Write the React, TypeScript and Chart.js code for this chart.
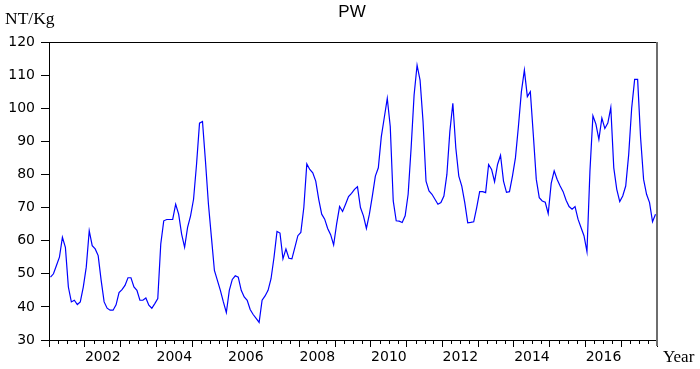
import React, { useEffect, useRef } from "react";
import { Chart, registerables } from "chart.js";

Chart.register(...registerables);

const startYear = 2001;
const endYear = 2018;
const seriesName = "PW";
const yUnit = "NT/Kg";
const xUnit = "Year";
const yTicks = [30, 40, 50, 60, 70, 80, 90, 100, 110, 120];
const yearLabels = [2002, 2004, 2006, 2008, 2010, 2012, 2014, 2016];

// monthly values, 2001M01 .. 2017M12
const pw2001 = [49, 50, 52.5, 55, 61, 58, 46, 41.5, 42, 40.7, 41.5, 46];
const pw2002 = [52, 63, 58.5, 57.5, 55.5, 48, 41.5, 39.6, 39, 39, 40.6, 44.3];
const pw2003 = [45.2, 46.5, 48.8, 48.8, 46, 45, 42, 42, 42.7, 40.5, 39.6, 41];
const pw2004 = [42.5, 59, 66, 66.4, 66.4, 66.4, 71, 68, 62, 58, 64, 67.5];
const pw2005 = [72.5, 83, 95.5, 96, 84, 71, 61, 51, 48, 45, 41.5, 38.3];
const pw2006 = [45, 48.3, 49.4, 49, 45, 43, 42, 39.2, 37.7, 36.5, 35.3, 42];
const pw2007 = [43.3, 45, 48.5, 55, 62.8, 62.3, 54.5, 57.5, 54.7, 54.5, 58, 61.5];
const pw2008 = [62.5, 70, 83.2, 81.5, 80.5, 78, 72.5, 68, 66.5, 63.7, 61.8, 58.7];
const pw2009 = [65, 70.3, 68.8, 71, 73.3, 74.3, 75.5, 76.3, 70, 67.5, 63.7, 68];
const pw2010 = [73.5, 79.5, 82, 91.4, 97.2, 103, 94.5, 72, 66, 65.9, 65.5, 67.5];
const pw2011 = [74, 88, 104, 113, 108.5, 96, 78, 75, 74, 72.5, 71, 71.5];
const pw2012 = [73.5, 80, 93, 101.5, 88, 79.5, 76.5, 71.5, 65.4, 65.5, 65.7, 70];
const pw2013 = [74.8, 74.8, 74.5, 83, 81.5, 77.8, 83, 85.8, 78, 74.6, 74.8, 79.5];
const pw2014 = [85, 94.5, 105, 111.5, 103.5, 105, 92, 78.5, 73, 72, 71.6, 68.2];
const pw2015 = [77.3, 81.1, 78.5, 76.5, 74.8, 72.2, 70.3, 69.5, 70.3, 66.5, 64, 61.5];
const pw2016 = [56.7, 81, 97.7, 95.2, 90.6, 97, 93.9, 95.5, 100.2, 82, 75.5, 71.8];
const pw2017 = [73.5, 76.5, 86, 100, 108.7, 108.7, 91, 78.5, 74, 71.5, 65.7, 68];

const pwValues = [
  ...pw2001, ...pw2002, ...pw2003, ...pw2004, ...pw2005, ...pw2006,
  ...pw2007, ...pw2008, ...pw2009, ...pw2010, ...pw2011, ...pw2012,
  ...pw2013, ...pw2014, ...pw2015, ...pw2016, ...pw2017,
];

const decorPlugin = {
  id: "decor",
  afterDraw(chart: any) {
    const { ctx, chartArea } = chart;
    const xs = chart.scales.x;
    ctx.save();
    // minor (quarter) ticks
    ctx.strokeStyle = "#000";
    ctx.lineWidth = 1;
    for (let y = startYear; y < endYear; y++) {
      for (let q = 1; q < 4; q++) {
        const px = Math.round(xs.getPixelForValue(y + q / 4)) + 0.5;
        ctx.beginPath();
        ctx.moveTo(px, chartArea.bottom);
        ctx.lineTo(px, chartArea.bottom + 4);
        ctx.stroke();
      }
    }
    // top border
    ctx.beginPath();
    ctx.moveTo(chartArea.left, Math.round(chartArea.top) + 0.5);
    ctx.lineTo(chartArea.right, Math.round(chartArea.top) + 0.5);
    ctx.stroke();
    // right border
    ctx.strokeStyle = "#6e6e6e";
    ctx.lineWidth = 2;
    ctx.beginPath();
    ctx.moveTo(Math.round(chartArea.right), chartArea.top);
    ctx.lineTo(Math.round(chartArea.right), chartArea.bottom + 6);
    ctx.stroke();
    // texts
    ctx.fillStyle = "#000";
    ctx.textBaseline = "alphabetic";
    ctx.font = "17px 'Liberation Sans', Arial, sans-serif";
    ctx.textAlign = "center";
    ctx.fillText(seriesName, 352, 17);
    ctx.font = "17.5px 'Liberation Serif', 'Times New Roman', serif";
    ctx.textAlign = "left";
    ctx.fillText(yUnit, 5, 23.5);
    ctx.font = "17px 'Liberation Serif', 'Times New Roman', serif";
    ctx.fillText(xUnit, 663, 361.5);
    ctx.restore();
  },
};

export default function App() {
  const ref = useRef<HTMLCanvasElement | null>(null);
  useEffect(() => {
    if (!ref.current) return;
    const points = pwValues.map((v, i) => ({ x: startYear + (i + 0.5) / 12, y: v }));
    const tickFont = { family: "'DejaVu Sans', sans-serif", size: 14 };
    const chart = new Chart(ref.current, {
      type: "line",
      data: {
        datasets: [
          {
            label: seriesName,
            data: points,
            borderColor: "#0000ff",
            borderWidth: 1.2,
            pointRadius: 0,
            tension: 0,
            fill: false,
          },
        ],
      },
      options: {
        responsive: false,
        animation: false,
        events: [],
        layout: { padding: { top: 42, right: 43, left: 0, bottom: 0 } },
        plugins: { legend: { display: false }, title: { display: false }, tooltip: { enabled: false } },
        scales: {
          x: {
            type: "linear",
            min: startYear,
            max: endYear,
            afterBuildTicks: (s: any) => {
              const t = [];
              for (let y = startYear; y <= endYear; y++) t.push({ value: y });
              s.ticks = t;
            },
            afterFit: (s: any) => {
              s.height = 29;
            },
            grid: { drawOnChartArea: false, drawTicks: true, tickLength: 7, color: "#000" },
            border: { display: true, color: "#000", width: 1 },
            ticks: {
              autoSkip: false,
              maxRotation: 0,
              minRotation: 0,
              padding: 2,
              labelOffset: 18,
              color: "#000",
              font: tickFont,
              callback: (v: any) => (yearLabels.includes(Number(v)) ? String(v) : ""),
            },
          },
          y: {
            min: 30,
            max: 120,
            afterBuildTicks: (s: any) => {
              s.ticks = yTicks.map((v) => ({ value: v }));
            },
            afterFit: (s: any) => {
              s.width = 49;
            },
            grid: { drawOnChartArea: false, drawTicks: true, tickLength: 8, color: "#000" },
            border: { display: true, color: "#000", width: 1 },
            ticks: { padding: 6, color: "#000", font: tickFont },
          },
        },
      },
      plugins: [decorPlugin],
    });
    return () => chart.destroy();
  }, []);
  return (
    <div style={{ position: "absolute", left: 0, top: 0, width: 700, height: 369, background: "#fff" }}>
      <canvas ref={ref} width={700} height={369} style={{ width: 700, height: 369, display: "block" }} />
    </div>
  );
}
